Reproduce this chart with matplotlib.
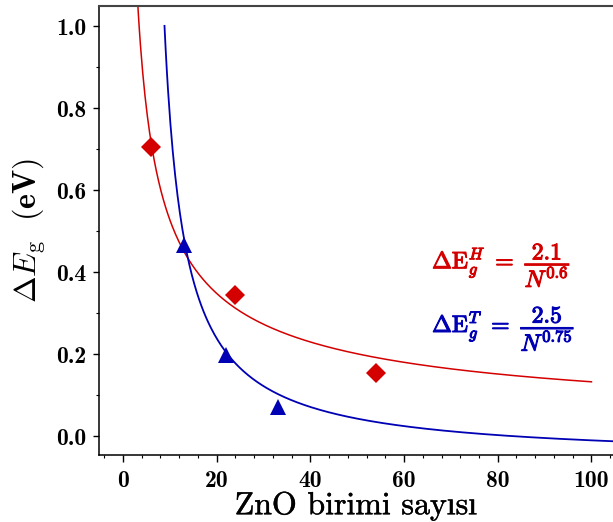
import numpy as np
import matplotlib
matplotlib.use("Agg")
import matplotlib.pyplot as plt
from matplotlib.ticker import MultipleLocator
import matplotlib.patheffects as pe

plt.rcParams['mathtext.fontset'] = 'cm'

# olculen noktalar
n_hex = [6, 24, 54]
eg_hex = [0.706, 0.344, 0.155]
n_tri = [13, 22, 33]
eg_tri = [0.466, 0.198, 0.070]

# uyum egrileri (H: 2.1/N^0.6, T: resimden okunan egri)
a_h, b_h = 2.1, 0.6
a_t, n0_t, c_t = 4.596, 4.52, -0.0584
n_range_h = [3.0, 100.0]
n_range_t = [8.86, 110.0]

x_ticks = [0, 20, 40, 60, 80, 100]
y_ticks = [0.0, 0.2, 0.4, 0.6, 0.8, 1.0]

red = '#d40000'
blue = '#0000b4'

fig = plt.figure(figsize=(6.13, 5.22), dpi=100)
ax = fig.add_axes([99 / 613, 67 / 522, 514 / 613, 449 / 522])

nh = np.linspace(n_range_h[0], n_range_h[1], 400)
ax.plot(nh, a_h / nh ** b_h, color=red, lw=1.1)
nt = np.linspace(n_range_t[0], n_range_t[1], 400)
ax.plot(nt, a_t / (nt - n0_t) + c_t, color=blue, lw=1.3)

ax.plot(n_hex, eg_hex, ls='none', marker='D', ms=10.5, color=red, mew=0)
ax.plot(n_tri, eg_tri, ls='none', marker='^', ms=11, color=blue, mew=0)

# kalin gorunum icin ince kontur
ax.text(66, 0.417, r'$\mathrm{\Delta E}_{g}^{H}\ =\ \dfrac{2.1}{N^{0.6}}$',
        color=red, fontsize=17, va='center', ha='left',
        path_effects=[pe.withStroke(linewidth=0.8, foreground=red)])
ax.text(66, 0.263, r'$\mathrm{\Delta E}_{g}^{T}\ =\ \dfrac{2.5}{N^{0.75}}$',
        color=blue, fontsize=17, va='center', ha='left',
        path_effects=[pe.withStroke(linewidth=0.8, foreground=blue)])

ax.set_xlim(-5.12, 104.6)
ax.set_ylim(-0.046, 1.049)
ax.set_xticks(x_ticks)
ax.set_yticks(y_ticks)
ax.set_xticklabels([str(v) for v in x_ticks], family='cmb10', fontsize=17)
ax.set_yticklabels(['%.1f' % v for v in y_ticks], family='cmb10', fontsize=17)
ax.xaxis.set_minor_locator(MultipleLocator(4))
ax.yaxis.set_minor_locator(MultipleLocator(0.1))
ax.tick_params(axis='x', which='major', direction='out', length=5, width=1, pad=6)
ax.tick_params(axis='x', which='minor', direction='out', length=2.5, width=0.8)
ax.tick_params(axis='y', which='major', direction='out', length=4, width=1, pad=5)
ax.tick_params(axis='y', which='minor', direction='out', length=2.5, width=0.8)
ax.tick_params(top=False, right=False)

ax.spines['right'].set_visible(False)
ax.spines['top'].set_color('#444444')
ax.spines['top'].set_linewidth(1.5)
ax.spines['left'].set_linewidth(1.1)
ax.spines['bottom'].set_linewidth(1.1)

ax.set_xlabel('ZnO birimi sayısı', family=['cmr10', 'Liberation Serif'], fontsize=23, labelpad=0,
              path_effects=[pe.withStroke(linewidth=0.3, foreground='black')])
ax.set_ylabel(r'$\mathbf{\Delta}\mathit{E}_{\mathrm{g}}\ \ \mathbf{(eV)}$', fontsize=23, labelpad=6)

fig.savefig('out.png', dpi=100)
